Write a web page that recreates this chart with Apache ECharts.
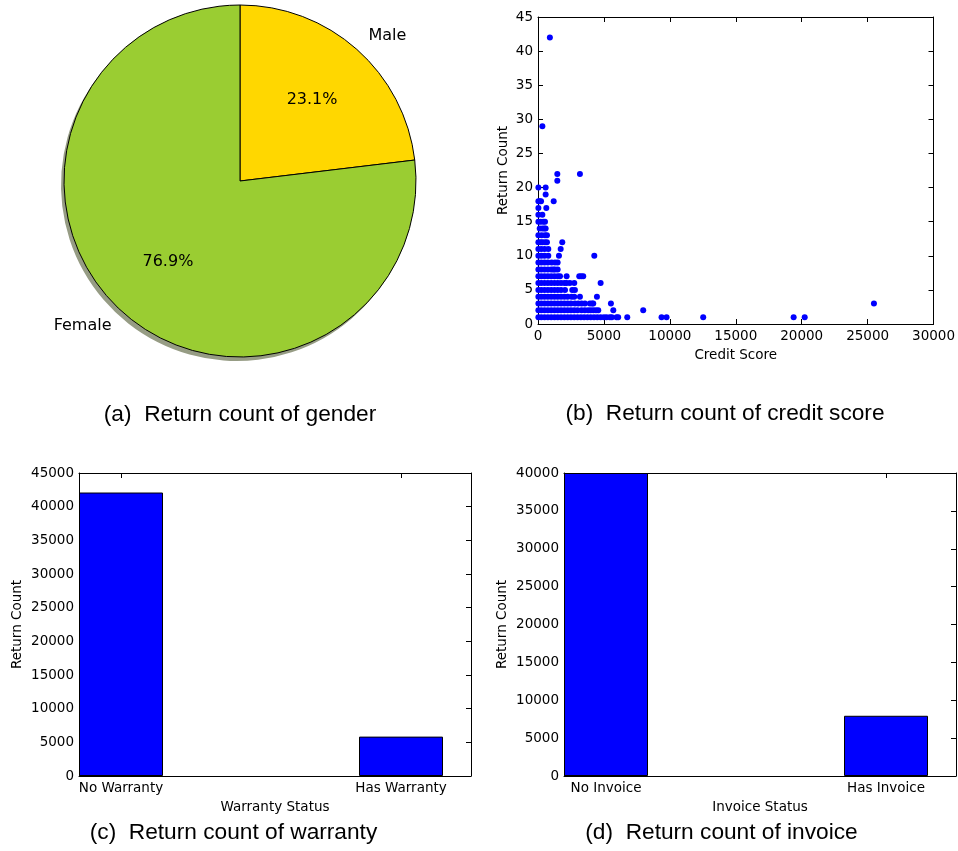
<!DOCTYPE html>
<html><head><meta charset="utf-8">
<script src="https://cdn.jsdelivr.net/npm/echarts@6/dist/echarts.min.js"></script>
<style>html,body{margin:0;padding:0;background:#fff}#c{width:958px;height:851px}</style>
</head><body><div id="c"></div>
<script>
// ---- data ----
const genderNames = ['Male', 'Female'];
const genderShares = [23.1, 76.9];
const genderColors = ['#FFD700', '#9ACD32'];

const warrantyCats = ['No Warranty', 'Has Warranty'];
const warrantyCounts = [42100, 5850];

const invoiceCats = ['No Invoice', 'Has Invoice'];
const invoiceCounts = [40000, 7950];

// [return count, credit scores observed at that count]
const scatterRows = [
  [1, [30,250,500,750,1000,1250,1500,1750,2000,2250,2500,2750,3000,3250,3500,3750,4000,4250,4500,4750,5000,5200,5450,5600,5960,6080,6770,9370,9750,12530,19390,20230]],
  [2, [30,250,500,750,1000,1250,1500,1750,2000,2250,2500,2750,3000,3300,3550,3800,4000,4200,4400,4570,5710,7980]],
  [3, [30,250,500,750,1000,1250,1500,1750,2000,2250,2500,2800,3050,3310,3560,3940,4100,4190,5530,25480]],
  [4, [30,250,500,750,1000,1250,1500,1750,2000,2250,2550,2750,3180,4470]],
  [5, [30,250,500,750,1000,1250,1500,1750,2050,2600,2800]],
  [6, [30,250,500,750,1000,1250,1500,1750,2000,2170,2420,2750,4750]],
  [7, [30,250,500,750,1000,1250,1500,1670,2170,3130,3280,3430]],
  [8, [30,250,500,750,1000,1160,1290,1490]],
  [9, [30,250,500,750,1040,1290,1490]],
  [10, [30,250,500,780,1590,4270]],
  [11, [30,250,500,780,1720]],
  [12, [30,200,330,530,680,1840]],
  [13, [30,280,530,680]],
  [14, [130,330,480,580]],
  [15, [30,200,400,530]],
  [16, [30,330]],
  [17, [30,630]],
  [18, [30,130,230,1190]],
  [19, [580]],
  [20, [30,580]],
  [21, [1465]],
  [22, [1465,3180]],
  [29, [330]],
  [42, [900]]
];

const creditTicks = {min: 0, max: 30000, step: 5000};
const returnTicks = {min: 0, max: 45, step: 5};

// ---- build ----
const F = 'DejaVu Sans';
const BLACK = '#000';
const scatterData = [];
scatterRows.forEach(r => r[1].forEach(x => scatterData.push([x, r[0]])));

function axisBase(extra) {
  return Object.assign({
    type: 'value',
    axisLine: {show: true, onZero: false, lineStyle: {color: BLACK, width: 1}},
    axisTick: {show: true, inside: true, length: 5, lineStyle: {color: BLACK, width: 1}},
    axisLabel: {color: BLACK, fontSize: 13.5, fontFamily: F, margin: 5, formatter: v => String(v)},
    splitLine: {show: false},
    nameTextStyle: {color: BLACK, fontSize: 13.5, fontFamily: F},
    nameLocation: 'middle'
  }, extra);
}
function hiddenLabels(a) { a.axisLabel = Object.assign({}, a.axisLabel, {show: false}); return a; }

const grids = [
  {left: 538, top: 17, width: 396, height: 307},
  {left: 79, top: 473, width: 392, height: 303},
  {left: 564, top: 473, width: 392, height: 303}
];

const xAxes = [
  axisBase({gridIndex: 0, position: 'bottom', min: creditTicks.min, max: creditTicks.max, interval: creditTicks.step, name: 'Credit Score', nameGap: 24}),
  hiddenLabels(axisBase({gridIndex: 0, position: 'top', min: creditTicks.min, max: creditTicks.max, interval: creditTicks.step})),
  axisBase({gridIndex: 1, position: 'bottom', min: -0.15, max: 1.25, name: 'Warranty Status', nameGap: 24,
    axisLabel: {color: BLACK, fontSize: 13.5, fontFamily: F, margin: 5, customValues: [0, 1], formatter: v => warrantyCats[Math.round(v)] || ''},
    axisTick: {show: true, inside: true, length: 5, customValues: [0, 1], lineStyle: {color: BLACK}}}),
  axisBase({gridIndex: 1, position: 'top', min: -0.15, max: 1.25,
    axisLabel: {show: false},
    axisTick: {show: true, inside: true, length: 5, customValues: [0, 1], lineStyle: {color: BLACK}}}),
  axisBase({gridIndex: 2, position: 'bottom', min: -0.15, max: 1.25, name: 'Invoice Status', nameGap: 24,
    axisLabel: {color: BLACK, fontSize: 13.5, fontFamily: F, margin: 5, customValues: [0, 1], formatter: v => invoiceCats[Math.round(v)] || ''},
    axisTick: {show: true, inside: true, length: 5, customValues: [0, 1], lineStyle: {color: BLACK}}}),
  axisBase({gridIndex: 2, position: 'top', min: -0.15, max: 1.25,
    axisLabel: {show: false},
    axisTick: {show: true, inside: true, length: 5, customValues: [0, 1], lineStyle: {color: BLACK}}})
];

const yAxes = [
  axisBase({gridIndex: 0, position: 'left', min: returnTicks.min, max: returnTicks.max, interval: returnTicks.step, name: 'Return Count', nameGap: 28}),
  hiddenLabels(axisBase({gridIndex: 0, position: 'right', min: returnTicks.min, max: returnTicks.max, interval: returnTicks.step})),
  axisBase({gridIndex: 1, position: 'left', min: 0, max: 45000, interval: 5000, name: 'Return Count', nameGap: 55}),
  hiddenLabels(axisBase({gridIndex: 1, position: 'right', min: 0, max: 45000, interval: 5000})),
  axisBase({gridIndex: 2, position: 'left', min: 0, max: 40000, interval: 5000, name: 'Return Count', nameGap: 55}),
  hiddenLabels(axisBase({gridIndex: 2, position: 'right', min: 0, max: 40000, interval: 5000}))
];

const pieData = genderNames.map((n, i) => ({name: n, value: genderShares[i], itemStyle: {color: genderColors[i]}}));
const shadowData = genderNames.map((n, i) => ({name: n, value: genderShares[i]}));

const option = {
  animation: false,
  backgroundColor: '#fff',
  grid: grids,
  xAxis: xAxes,
  yAxis: yAxes,
  series: [
    {
      // drop shadow of the pie, same slices offset down-left
      type: 'pie', center: [237, 185], radius: 176, startAngle: 90, clockwise: true,
      avoidLabelOverlap: false, silent: true, z: 1,
      itemStyle: {color: 'rgb(150,156,132)', borderWidth: 0},
      label: {show: false}, labelLine: {show: false},
      emphasis: {disabled: true},
      data: shadowData
    },
    {
      type: 'pie', center: [240, 181], radius: 176, startAngle: 90, clockwise: true,
      avoidLabelOverlap: false, silent: true, percentPrecision: 1, z: 2,
      itemStyle: {borderColor: BLACK, borderWidth: 1},
      label: {show: true, position: 'outside', formatter: '{b}', color: BLACK, fontSize: 16, fontFamily: F, distanceToLabelLine: 0},
      labelLine: {show: false, length: 17.6, length2: 0},
      emphasis: {disabled: true},
      data: pieData
    },
    {
      type: 'pie', center: [240, 181], radius: [35.2, 176], startAngle: 90, clockwise: true,
      avoidLabelOverlap: false, silent: true, percentPrecision: 1, z: 5,
      itemStyle: {color: 'rgba(0,0,0,0)', borderWidth: 0},
      label: {show: true, position: 'inside', formatter: p => p.percent.toFixed(1) + '%', color: BLACK, fontSize: 16, fontFamily: F},
      labelLine: {show: false},
      emphasis: {disabled: true},
      data: genderNames.map((n, i) => ({name: n, value: genderShares[i]}))
    },
    {
      type: 'scatter', xAxisIndex: 0, yAxisIndex: 0, symbol: 'circle', symbolSize: 6,
      itemStyle: {color: '#0000FF', opacity: 1}, silent: true,
      data: scatterData
    },
    {
      type: 'bar', xAxisIndex: 2, yAxisIndex: 2, barWidth: 84, silent: true,
      itemStyle: {color: '#0000FF', borderColor: BLACK, borderWidth: 1},
      data: warrantyCounts.map((v, i) => [i, v])
    },
    {
      type: 'bar', xAxisIndex: 4, yAxisIndex: 4, barWidth: 84, silent: true,
      itemStyle: {color: '#0000FF', borderColor: BLACK, borderWidth: 1},
      data: invoiceCounts.map((v, i) => [i, v])
    }
  ],
  graphic: [
    ['(a)  Return count of gender', 240, 415],
    ['(b)  Return count of credit score', 725, 414],
    ['(c)  Return count of warranty', 233.5, 833],
    ['(d)  Return count of invoice', 721.5, 833]
  ].map(c => ({
    type: 'text', x: c[1], y: c[2], silent: true,
    style: {text: c[0], fill: BLACK, font: '22.7px "Liberation Sans"', textAlign: 'center', textVerticalAlign: 'middle'}
  }))
};

const chart = echarts.init(document.getElementById('c'), null, {renderer: 'canvas'});
chart.setOption(option);
</script>
</body></html>
